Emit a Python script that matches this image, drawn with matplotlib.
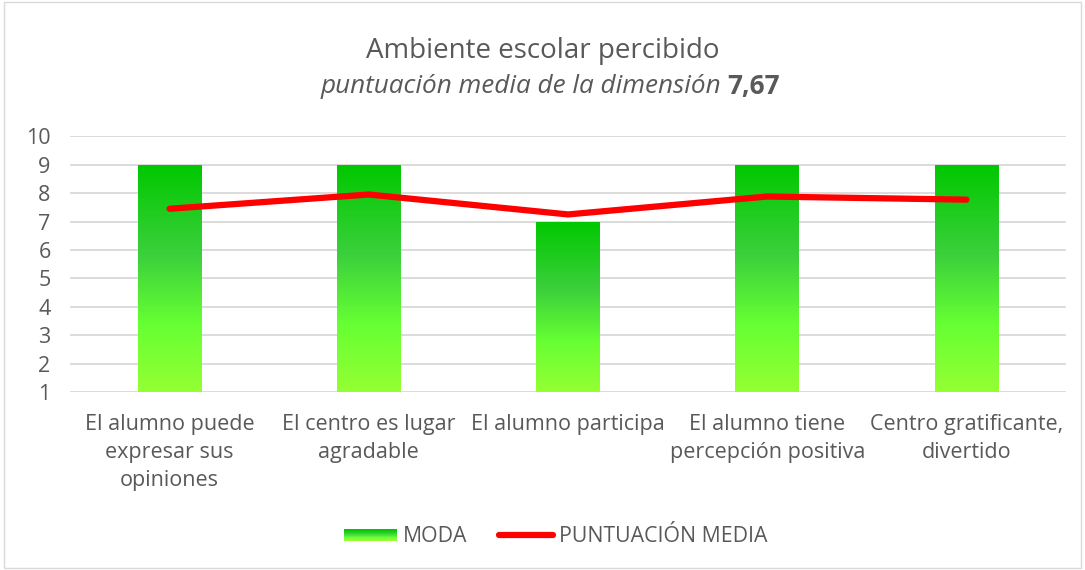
import numpy as np
import matplotlib.pyplot as plt
from matplotlib.colors import LinearSegmentedColormap
from matplotlib.legend_handler import HandlerBase
from matplotlib.lines import Line2D
from matplotlib.patches import Rectangle

# data
categories = ['El alumno puede\nexpresar sus\nopiniones', 'El centro es lugar\nagradable',
              'El alumno participa', 'El alumno tiene\npercepción positiva',
              'Centro gratificante,\ndivertido']
moda = [9, 9, 7, 9, 9]
puntuacion_media = [7.45, 7.95, 7.25, 7.88, 7.77]
media_dimension = '7,67'

plt.rcParams['font.family'] = ['Open Sans', 'DejaVu Sans']
txt = '#595959'

fig = plt.figure(figsize=(10.85, 5.7), dpi=100)
fig.patches.append(Rectangle((0.004, 0.004), 0.992, 0.992, transform=fig.transFigure,
                             fill=False, edgecolor='#D9D9D9', lw=1))
ax = fig.add_axes([0.0645, 0.312, 0.918, 0.449])

green = LinearSegmentedColormap.from_list('g', [(0, '#94FF33'), (0.3, '#66FF33'),
                                                (0.6, '#3CD03C'), (1, '#00C800')])
x = np.arange(len(categories))
w = 0.32
bars = ax.bar(x, np.array(moda) - 1, width=w, bottom=1, color='none', zorder=2)
grad = np.linspace(0, 1, 256).reshape(-1, 1)
for b in bars:
    x0, y0 = b.get_x(), b.get_y()
    im = ax.imshow(grad, cmap=green, origin='lower', aspect='auto', zorder=2,
                   extent=[x0, x0 + b.get_width(), y0, y0 + b.get_height()])
    im.set_clip_path(b)

ax.plot(x, puntuacion_media, color='#FF0000', lw=4.5, solid_capstyle='round', zorder=3)

ax.set_xlim(-0.5, len(categories) - 0.5)
ax.set_ylim(1, 10)
ax.set_yticks(range(1, 11))
ax.yaxis.grid(True, color='#D9D9D9', lw=1.3)
ax.set_axisbelow(True)
for s in ax.spines.values():
    s.set_visible(False)
ax.tick_params(axis='y', length=0, labelsize=15.5, colors=txt, pad=14)
ax.tick_params(axis='x', length=0, labelsize=15.5, colors=txt, pad=16)
ax.set_xticks(x)
ax.set_xticklabels(categories, linespacing=1.42)

fig.text(0.5, 0.911, 'Ambiente escolar percibido', ha='center', va='center',
         fontsize=20, color=txt)
t1 = fig.text(0.5, 0.849, 'puntuación media de la dimensión ', ha='center', va='center',
              fontsize=18.8, style='italic', color=txt)
t2 = fig.text(0.5, 0.849, media_dimension, ha='left', va='center', fontsize=18.8,
              fontweight='bold', color=txt)
r = fig.canvas.get_renderer()
w1 = t1.get_window_extent(r).width
w2 = t2.get_window_extent(r).width
W = fig.bbox.width
cx = 0.507 * W
t1.set_ha('left')
t1.set_x((cx - (w1 + w2) / 2) / W)
t2.set_x((cx - (w1 + w2) / 2 + w1) / W)


class GradientHandler(HandlerBase):
    def create_artists(self, legend, orig_handle, xdescent, ydescent, width, height,
                       fontsize, trans):
        n = 20
        h = height * 0.75
        y0 = -ydescent + (height - h) / 2
        return [Rectangle((-xdescent, y0 + h * i / n), width, h / n + 0.3,
                          facecolor=green(i / (n - 1)), edgecolor='none', transform=trans)
                for i in range(n)]


grad_handle = Rectangle((0, 0), 1, 1)
handles = [grad_handle, Line2D([0], [0], color='#FF0000', lw=4.5, solid_capstyle='round')]
leg = fig.legend(handles, ['MODA', 'PUNTUACIÓN MEDIA'], loc='center', bbox_to_anchor=(0.512, 0.058),
                 ncol=2, frameon=False, fontsize=15.3, handlelength=2.5, handletextpad=0.3,
                 columnspacing=1.5, handler_map={grad_handle: GradientHandler()})
for t in leg.get_texts():
    t.set_color(txt)

fig.savefig('out.png', dpi=100)
